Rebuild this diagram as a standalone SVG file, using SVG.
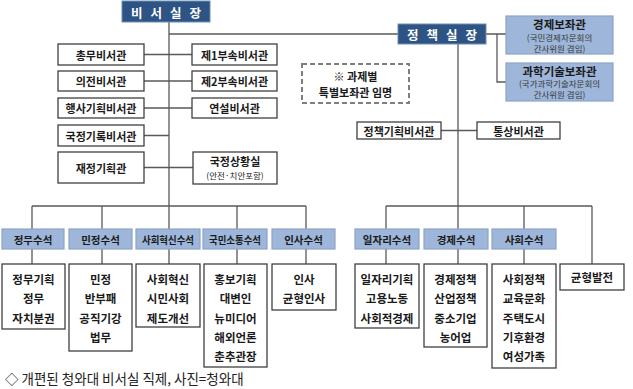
<svg xmlns="http://www.w3.org/2000/svg" width="633" height="389" viewBox="0 0 633 389">
<style>
text{font-family:"Noto Sans CJK KR","Noto Sans",sans-serif;fill:#1a1a1a;text-anchor:middle;dominant-baseline:central}
.b{font-weight:bold;font-size:11px}
.c{font-weight:bold;font-size:11.5px}
.h{font-weight:bold;font-size:10.5px}
.s{font-size:8.5px;fill:#3a3a3a}
.t{font-weight:bold;font-size:12.5px;fill:#fff}
.box{fill:#fff;stroke:#404040;stroke-width:1.3}
.hb{fill:#9db6d9;stroke:#8aa3c6;stroke-width:1.2}
.tb{fill:#2e5485;stroke:#6f8db3;stroke-width:1}
.ln{fill:none;stroke:#595959;stroke-width:1.3}
</style>
<rect width="633" height="389" fill="#fff"/>
<g id="connectors" class="ln">
<path d="M169,22V229M169,34H398"/>
<path d="M144,54.5H192M144,81H192M144,108H192M144,135.5H169M144,167.5H193"/>
<path d="M458,44V229M486,34H506M497,34V82H506M441,130.5H477"/>
<path d="M32,206H306M32,206V229M102,206V229M237,206V229M306,206V229"/>
<path d="M386,206H592M386,206V229M524,206V229M592,206V264"/>
<path d="M32,249V264M102,249V264M169,249V264M237,249V264M306,249V264M386,249V264M458,249V264M524,249V264"/>
</g>
<g id="n-chief"><rect class="tb" x="122" y="1" width="88" height="21"/><text class="t" x="166" y="12" letter-spacing="8" dx="4">비서실장</text></g>
<g id="n-policy"><rect class="tb" x="398" y="24" width="88" height="20"/><text class="t" x="442" y="34.5" letter-spacing="8" dx="4">정책실장</text></g>
<g id="n-econ-adv"><rect class="hb" x="506" y="16" width="107" height="38"/><text class="c" x="559.5" y="23.5">경제보좌관</text><text class="s" x="559.5" y="36.5">(국민경제자문회의</text><text class="s" x="559.5" y="47.5">간사위원 겸임)</text></g>
<g id="n-sci-adv"><rect class="hb" x="506" y="63" width="107" height="38"/><text class="c" x="559.5" y="70.5">과학기술보좌관</text><text class="s" x="559.5" y="83">(국가과학기술자문회의</text><text class="s" x="559.5" y="94">간사위원 겸임)</text></g>
<g id="n-note"><rect x="302" y="64" width="107" height="39" fill="#fff" stroke="#7f7f7f" stroke-width="2" stroke-dasharray="5,3"/><text class="b" x="355.5" y="76">※ 과제별</text><text class="b" x="355.5" y="92">특별보좌관 임명</text></g>
<g id="n-chongmu"><rect class="box" x="58" y="44" width="86" height="21"/><text class="b" x="101" y="54.5">총무비서관</text></g>
<g id="n-uijeon"><rect class="box" x="58" y="71" width="86" height="20"/><text class="b" x="101" y="81">의전비서관</text></g>
<g id="n-haengsa"><rect class="box" x="58" y="98" width="86" height="20"/><text class="b" x="101" y="108">행사기획비서관</text></g>
<g id="n-gukjeong"><rect class="box" x="58" y="125" width="86" height="21"/><text class="b" x="101" y="135.5">국정기록비서관</text></g>
<g id="n-jaejeong"><rect class="box" x="58" y="152" width="86" height="31"/><text class="b" x="101" y="167.5">재정기획관</text></g>
<g id="n-bu1"><rect class="box" x="192" y="44" width="85" height="21"/><text class="b" x="234.5" y="54.5">제1부속비서관</text></g>
<g id="n-bu2"><rect class="box" x="192" y="71" width="85" height="20"/><text class="b" x="234.5" y="81">제2부속비서관</text></g>
<g id="n-speech"><rect class="box" x="192" y="98" width="85" height="20"/><text class="b" x="234.5" y="108">연설비서관</text></g>
<g id="n-situation"><rect class="box" x="193" y="152" width="84" height="32"/><text class="b" x="235" y="160.5">국정상황실</text><text class="s" x="235" y="175" style="fill:#1a1a1a">(안전·치안포함)</text></g>
<g id="n-policyplan"><rect class="box" x="357" y="122" width="84" height="17"/><text class="b" x="399" y="130.5">정책기획비서관</text></g>
<g id="n-trade"><rect class="box" x="477" y="122" width="83" height="17"/><text class="b" x="518.5" y="130.5">통상비서관</text></g>
<g id="n-jeongmu"><rect class="hb" x="2" y="229" width="62" height="20"/><text class="h" x="33" y="239">정무수석</text><rect class="box" x="2" y="264" width="63" height="65"/><text class="c" x="33.5" y="279">정무기획</text><text class="c" x="33.5" y="298">정무</text><text class="c" x="33.5" y="318">자치분권</text></g>
<g id="n-minjeong"><rect class="hb" x="69" y="229" width="63" height="20"/><text class="h" x="100.5" y="239">민정수석</text><rect class="box" x="69" y="264" width="63" height="87"/><text class="c" x="100.5" y="279">민정</text><text class="c" x="100.5" y="298">반부패</text><text class="c" x="100.5" y="318">공직기강</text><text class="c" x="100.5" y="337">법무</text></g>
<g id="n-social-innov"><rect class="hb" x="136" y="229" width="64" height="20"/><text class="h" x="168" y="239" textLength="52" lengthAdjust="spacingAndGlyphs">사회혁신수석</text><rect class="box" x="136" y="264" width="64" height="63"/><text class="c" x="168" y="279">사회혁신</text><text class="c" x="168" y="298">시민사회</text><text class="c" x="168" y="318">제도개선</text></g>
<g id="n-comm"><rect class="hb" x="203" y="229" width="64" height="20"/><text class="h" x="235" y="239" textLength="52" lengthAdjust="spacingAndGlyphs">국민소통수석</text><rect class="box" x="204" y="264" width="63" height="103"/><text class="c" x="235.5" y="279">홍보기획</text><text class="c" x="235.5" y="298">대변인</text><text class="c" x="235.5" y="318">뉴미디어</text><text class="c" x="235.5" y="337">해외언론</text><text class="c" x="235.5" y="356">춘추관장</text></g>
<g id="n-insa"><rect class="hb" x="272" y="229" width="63" height="20"/><text class="h" x="303.5" y="239">인사수석</text><rect class="box" x="272" y="264" width="64" height="46"/><text class="c" x="304" y="279">인사</text><text class="c" x="304" y="298">균형인사</text></g>
<g id="n-jobs"><rect class="hb" x="355" y="229" width="64" height="20"/><text class="h" x="387" y="239">일자리수석</text><rect class="box" x="355" y="264" width="64" height="64"/><text class="c" x="387" y="279">일자리기획</text><text class="c" x="387" y="298">고용노동</text><text class="c" x="387" y="318">사회적경제</text></g>
<g id="n-economy"><rect class="hb" x="424" y="229" width="64" height="20"/><text class="h" x="456" y="239">경제수석</text><rect class="box" x="424" y="264" width="63" height="83"/><text class="c" x="455.5" y="279">경제정책</text><text class="c" x="455.5" y="298">산업정책</text><text class="c" x="455.5" y="318">중소기업</text><text class="c" x="455.5" y="337">농어업</text></g>
<g id="n-society"><rect class="hb" x="492" y="229" width="64" height="20"/><text class="h" x="524" y="239">사회수석</text><rect class="box" x="492" y="264" width="64" height="104"/><text class="c" x="524" y="279">사회정책</text><text class="c" x="524" y="298">교육문화</text><text class="c" x="524" y="318">주택도시</text><text class="c" x="524" y="337">기후환경</text><text class="c" x="524" y="356">여성가족</text></g>
<g id="n-balance"><rect class="box" x="560" y="264" width="64" height="26"/><text class="c" x="592" y="277">균형발전</text></g>
<text x="5" y="378" style="text-anchor:start;font-size:13.5px;fill:#222">◇ 개편된 청와대 비서실 직제, 사진=청와대</text>
</svg>
